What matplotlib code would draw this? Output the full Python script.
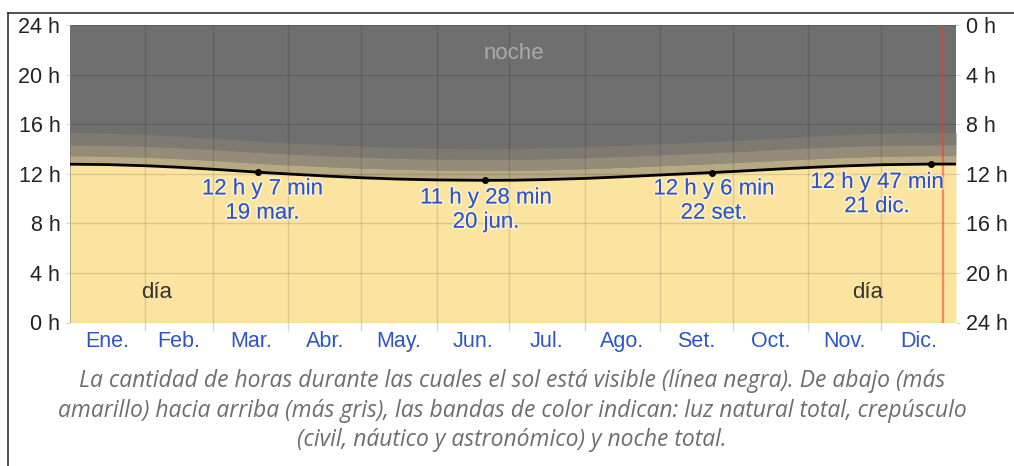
import matplotlib
matplotlib.use("Agg")
import matplotlib.pyplot as plt
import matplotlib.patheffects as pe
from matplotlib.lines import Line2D

# ==== Data ==== #
# sample days (day of year) and hours of visible sun
days = [1, 15, 32, 46, 60, 78, 91, 105, 121, 135, 152, 171, 182,
        196, 213, 227, 244, 265, 274, 288, 305, 319, 335, 355, 365]
daylight = [12.77, 12.74, 12.64, 12.51, 12.35, 12.12, 11.97, 11.82, 11.67,
            11.57, 11.50, 11.47, 11.48, 11.53, 11.63, 11.75, 11.91, 12.10,
            12.19, 12.34, 12.51, 12.63, 12.73, 12.78, 12.78]
# extra hours above the daylight line: civil, nautical, astronomical (cumulative)
civil_extra = [0.68, 0.68, 0.69, 0.70, 0.71, 0.72, 0.74, 0.76, 0.78, 0.79,
               0.80, 0.80, 0.80, 0.79, 0.78, 0.76, 0.74, 0.72, 0.71, 0.70,
               0.69, 0.68, 0.68, 0.68, 0.68]
nautical_extra = [1.56, 1.56, 1.57, 1.58, 1.59, 1.60, 1.62, 1.64, 1.66, 1.67,
                  1.68, 1.68, 1.68, 1.67, 1.66, 1.64, 1.62, 1.60, 1.59, 1.58,
                  1.57, 1.56, 1.56, 1.56, 1.56]
astro_extra = [2.55, 2.54, 2.52, 2.51, 2.50, 2.50, 2.51, 2.53, 2.55, 2.56,
               2.56, 2.56, 2.56, 2.56, 2.55, 2.53, 2.51, 2.49, 2.49, 2.50,
               2.51, 2.53, 2.54, 2.55, 2.55]

# equinoxes / solstices
event_days = [77.5, 171, 264.5, 354.5]
event_hours = [12 + 7 / 60, 11 + 28 / 60, 12 + 6 / 60, 12 + 47 / 60]
event_dates = ["19 mar.", "20 jun.", "22 set.", "21 dic."]

month_names = ["Ene.", "Feb.", "Mar.", "Abr.", "May.", "Jun.",
               "Jul.", "Ago.", "Set.", "Oct.", "Nov.", "Dic."]
month_starts = [0, 31, 59, 90, 120, 151, 181, 212, 243, 273, 304, 334, 365]
hour_ticks = [0, 4, 8, 12, 16, 20, 24]
today = 359.6

# ==== Colours ==== #
c_night = "#6f6f6f"
c_astro = "#7e7a72"
c_naut = "#948c79"
c_civil = "#b6a983"
c_day = "#fbe4a0"
c_blue = "#2f55c4"
c_tick = "#d6d6d6"

plt.rcParams["font.family"] = ["Liberation Sans", "DejaVu Sans"]

fig = plt.figure(figsize=(10.14, 4.66), dpi=100)
ax = fig.add_axes([70 / 1014, 143.5 / 466, 886 / 1014, 297.5 / 466])
ax.set_facecolor(c_night)

top_civil = [d + e for d, e in zip(daylight, civil_extra)]
top_naut = [d + e for d, e in zip(daylight, nautical_extra)]
top_astro = [d + e for d, e in zip(daylight, astro_extra)]

x = [0] + days[1:-1] + [365]
ax.fill_between(x, top_naut, top_astro, color=c_astro, lw=0)
ax.fill_between(x, top_civil, top_naut, color=c_naut, lw=0)
ax.fill_between(x, daylight, top_civil, color=c_civil, lw=0)
ax.fill_between(x, 0, daylight, color=c_day, lw=0)
ax.plot(x, daylight, color="black", lw=2, zorder=4)
ax.plot(event_days, event_hours, "o", color="black", ms=4, zorder=5)

ax.axvline(today, color="#ff3b1f", alpha=0.55, lw=1.6, zorder=3)

ax.set_xlim(0, 365)
ax.set_ylim(0, 24)

# month boundaries as grid, labels at month centres
ax.set_xticks(month_starts[1:-1])
ax.set_xticklabels([])
ax.set_xticks([(a + b) / 2 for a, b in zip(month_starts[:-1], month_starts[1:])],
              minor=True)
ax.set_xticklabels(month_names, minor=True)
ax.tick_params(axis="x", which="major", length=6, color=c_tick, width=1)
ax.tick_params(axis="x", which="minor", length=0, pad=6,
               labelsize=15.5, labelcolor=c_blue)
ax.set_yticks(hour_ticks)
ax.set_yticklabels([f"{h} h" for h in hour_ticks])
ax.tick_params(axis="y", length=3, color=c_tick, pad=4,
               labelsize=15.5, labelcolor="#222222")
ax.grid(True, which="major", color="black", alpha=0.12, lw=1)
ax.set_axisbelow(False)
for s in ax.spines.values():
    s.set_visible(False)

ax2 = ax.twinx()
ax2.set_ylim(24, 0)
ax2.set_yticks(hour_ticks)
ax2.set_yticklabels([f"{h} h" for h in hour_ticks])
ax2.tick_params(axis="y", length=3, color=c_tick, pad=4,
                labelsize=15.5, labelcolor="#222222")
for s in ax2.spines.values():
    s.set_visible(False)

# annotations for equinoxes / solstices
label_pos = [(79.3, 9.8), (171.4, 9.07), (265.3, 9.8), (332.5, 10.32)]
glow = [pe.withStroke(linewidth=2.5, foreground=(1, 1, 1, 0.45))]
for h, date, (lx, ly) in zip(event_hours, event_dates, label_pos):
    hh = int(h)
    mm = round((h - hh) * 60)
    ax.text(lx, ly, f"{hh} h y {mm} min\n{date}", ha="center", va="center",
            fontsize=16, color=c_blue, linespacing=1.2, path_effects=glow,
            zorder=6)

ax.text(182.9, 21.7, "noche", ha="center", va="center", fontsize=16,
        color="#ababab")
for dx in (35.8, 328.7):
    ax.text(dx, 2.4, "día", ha="center", va="center", fontsize=16,
            color="#333333")

# caption
caption = ["La cantidad de horas durante las cuales el sol está visible (línea negra). De abajo (más",
           "amarillo) hacia arriba (más gris), las bandas de color indican: luz natural total, crepúsculo",
           "(civil, náutico y astronómico) y noche total."]
for i, line in enumerate(caption):
    fig.text(512 / 1014, 1 - (381 + 29.7 * i) / 466, line, ha="center",
             va="center", fontsize=16.5, style="italic", color="#6e6e6e",
             family=["Open Sans", "DejaVu Sans"])

# frame around the figure
fig.add_artist(Line2D([8 / 1014, 1], [1 - 13 / 466] * 2, color="#333333", lw=1.2))
fig.add_artist(Line2D([8 / 1014] * 2, [0, 1 - 13 / 466], color="#333333", lw=1.2))

fig.savefig("out.png", dpi=100)
